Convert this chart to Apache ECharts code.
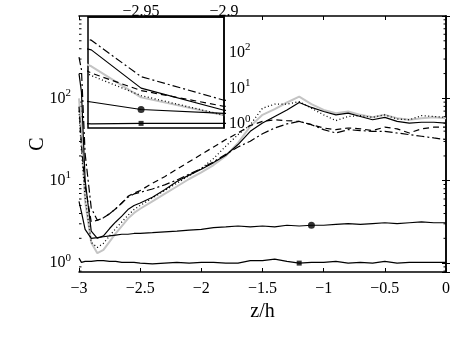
<!DOCTYPE html>
<html>
<head>
<meta charset="utf-8">
<script src="https://cdn.jsdelivr.net/npm/echarts@6/dist/echarts.min.js"></script>
<style>
html, body { margin: 0; padding: 0; background: #fff; }
#chart { width: 464px; height: 337px; }
</style>
</head>
<body>
<div id="chart"></div>
<script>
// z/h sample positions (shared by every curve)
var zh = [-3, -2.98, -2.95, -2.9, -2.85, -2.8, -2.75, -2.7, -2.65, -2.6, -2.55, -2.5,
  -2.4, -2.3, -2.2, -2.1, -2, -1.9, -1.8, -1.7, -1.6, -1.5, -1.4, -1.3, -1.2, -1.1,
  -1, -0.9, -0.8, -0.7, -0.6, -0.5, -0.4, -0.3, -0.2, -0.1, 0];

// C values
var solidC = [200, 120, 10.2, 2.45, 2.0, 2.14, 2.63, 3.16, 3.72, 4.47, 5.01, 5.37,
  6.31, 7.76, 9.77, 11.7, 13.8, 16.6, 20.4, 27.5, 39.8, 50.1, 60.3, 72.4, 89.1, 77.6,
  69.2, 63.1, 66.1, 60.3, 55.0, 58.9, 52.5, 50.1, 51.3, 51.3, 50.1];
var grayC = [100, 41.7, 5.62, 1.78, 1.32, 1.45, 1.82, 2.29, 2.82, 3.47, 4.07, 4.57,
  5.62, 6.92, 8.51, 10.5, 12.6, 15.5, 20.0, 28.8, 45.7, 63.1, 74.1, 89.1, 105, 85.1,
  72.4, 66.1, 69.2, 63.1, 58.9, 63.1, 57.5, 55.0, 57.5, 58.9, 57.5];
var dottedC = [70.8, 22.9, 6.31, 1.78, 1.55, 1.74, 2.14, 2.63, 3.16, 3.80, 4.47, 5.01,
  6.17, 7.59, 9.33, 11.5, 14.1, 18.6, 26.3, 36.3, 47.9, 75.9, 85.1, 85.1, 91.2, 75.9,
  63.1, 53.7, 60.3, 61.7, 58.9, 63.1, 56.2, 55.0, 61.7, 60.3, 58.9];
var dashedC = [79.4, 26.9, 8.71, 3.16, 3.31, 3.55, 3.98, 4.57, 5.37, 6.46, 7.08, 7.59,
  9.33, 11.2, 13.8, 17.0, 20.9, 25.7, 31.6, 38.0, 46.8, 52.5, 55.0, 53.7, 52.5, 47.9,
  43.7, 41.7, 43.7, 42.7, 40.7, 44.7, 42.7, 38.0, 42.7, 44.7, 44.7];
var dashDotC = [316, 224, 21.4, 4.68, 3.31, 3.55, 3.98, 4.57, 5.37, 6.31, 6.92, 7.24,
  7.94, 8.91, 10.2, 12.0, 14.1, 17.0, 20.9, 25.7, 30.2, 37.2, 43.7, 49.0, 52.5, 47.9,
  41.7, 38.0, 41.7, 40.7, 39.8, 39.8, 38.0, 36.3, 34.7, 33.1, 31.6];
var circleC = [5.62, 4.17, 2.57, 2.0, 2.04, 2.09, 2.14, 2.19, 2.24, 2.24, 2.29, 2.29,
  2.34, 2.40, 2.45, 2.51, 2.57, 2.69, 2.75, 2.82, 2.75, 2.82, 2.75, 2.88, 2.82, 2.88,
  2.88, 2.95, 3.02, 2.95, 3.02, 3.09, 3.02, 3.09, 3.16, 3.09, 3.09];
var squareC = [1.15, 1.02, 1.05, 1.05, 1.07, 1.07, 1.05, 1.05, 1.02, 1.02, 1.02, 1.00,
  0.98, 1.00, 1.02, 1.00, 1.02, 1.02, 1.00, 1.00, 1.07, 1.07, 1.12, 1.05, 1.00, 1.02,
  1.02, 1.05, 1.00, 1.02, 1.00, 1.05, 1.00, 1.02, 1.02, 1.02, 1.02];

// where the markers sit (index into zh)
var circleMainIdx = 25, squareMainIdx = 24, markInsetIdx = 2;

// tick labels
var xTickLabels = [-3, -2.5, -2, -1.5, -1, -0.5, 0];
var insetXTickLabels = [-2.95, -2.9];
var yTickExps = [0, 1, 2];
// minor ticks of the log axis
var yMinorTicks = [0.8, 0.9, 2, 3, 4, 5, 6, 7, 8, 9, 20, 30, 40, 50, 60, 70, 80, 90,
  200, 300, 400, 500, 600, 700, 800, 900];

var serif = "'Liberation Serif', 'DejaVu Serif', serif";

function pairs(c) {
  return zh.map(function (z, i) { return [z, c[i]]; });
}
function minusLabel(list) {
  return function (v) {
    for (var i = 0; i < list.length; i++) {
      if (Math.abs(list[i] - v) < 1e-6) return String(list[i]).replace('-', '\u2212');
    }
    return '';
  };
}
function powLabel(v) {
  var lg = Math.log10(v), e = Math.round(lg);
  if (Math.abs(lg - e) > 1e-6 || yTickExps.indexOf(e) < 0) return '';
  return '{b|10}{s|' + e + '}';
}
var powRich = {
  b: { fontFamily: serif, fontSize: 16, color: '#000' },
  s: { fontFamily: serif, fontSize: 11, color: '#000', padding: [0, 0, 11, 0] }
};

var styles = [
  { c: grayC, color: '#c4c4c4', width: 2, type: 'solid' },
  { c: dottedC, color: '#000', width: 1.3, type: [1, 2.5] },
  { c: dashedC, color: '#000', width: 1.2, type: [6, 4] },
  { c: dashDotC, color: '#000', width: 1.2, type: [8, 3, 2, 3] },
  { c: solidC, color: '#000', width: 1.2, type: 'solid' },
  { c: circleC, color: '#000', width: 1.2, type: 'solid' },
  { c: squareC, color: '#000', width: 1.2, type: 'solid' }
];

var series = [];
[[0, 0, 2], [2, 2, 5]].forEach(function (ax) {
  styles.forEach(function (s) {
    series.push({
      type: 'line', xAxisIndex: ax[0], yAxisIndex: ax[1], z: ax[2],
      data: pairs(s.c), showSymbol: false, clip: true, silent: true,
      lineStyle: { color: s.color, width: s.width, type: s.type }
    });
  });
});
series.push(
  { type: 'scatter', xAxisIndex: 0, yAxisIndex: 0, z: 3, symbol: 'circle', symbolSize: 7,
    itemStyle: { color: '#000' }, data: [[zh[circleMainIdx], circleC[circleMainIdx]]] },
  { type: 'scatter', xAxisIndex: 0, yAxisIndex: 0, z: 3, symbol: 'rect', symbolSize: 5,
    itemStyle: { color: '#000' }, data: [[zh[squareMainIdx], squareC[squareMainIdx]]] },
  { type: 'scatter', xAxisIndex: 2, yAxisIndex: 2, z: 6, symbol: 'circle', symbolSize: 7,
    itemStyle: { color: '#000' }, data: [[zh[markInsetIdx], circleC[markInsetIdx]]] },
  { type: 'scatter', xAxisIndex: 2, yAxisIndex: 2, z: 6, symbol: 'rect', symbolSize: 5,
    itemStyle: { color: '#000' }, data: [[zh[markInsetIdx], squareC[markInsetIdx]]] },
  // minor ticks on the left and right edges of the main box
  { type: 'custom', xAxisIndex: 0, yAxisIndex: 0, z: 1, silent: true, clip: false,
    data: yMinorTicks.map(function (v) { return [-3, v]; }),
    renderItem: function (params, api) {
      var v = api.value(1);
      var l = api.coord([-3, v]), r = api.coord([0, v]);
      var st = { stroke: '#000', lineWidth: 1 };
      return { type: 'group', children: [
        { type: 'line', shape: { x1: l[0], y1: l[1], x2: l[0] + 2.5, y2: l[1] }, style: st },
        { type: 'line', shape: { x1: r[0] - 2.5, y1: r[1], x2: r[0], y2: r[1] }, style: st }
      ] };
    } }
);

var axisLine = { show: true, lineStyle: { color: '#000', width: 1.5 } };
var tickIn = { show: true, inside: true, length: 4, lineStyle: { color: '#000', width: 1 } };

var chart = echarts.init(document.getElementById('chart'), null, { renderer: 'canvas' });
chart.setOption({
  animation: false,
  backgroundColor: '#fff',
  grid: [
    { left: 79, top: 16, width: 367, height: 256 },
    { left: 88, top: 17, width: 136, height: 111, show: true, z: 3,
      backgroundColor: '#fff', borderColor: '#000', borderWidth: 1.5 }
  ],
  xAxis: [
    { gridIndex: 0, type: 'value', min: -3, max: 0, interval: 0.5,
      axisLine: axisLine, axisTick: tickIn, splitLine: { show: false },
      axisLabel: { formatter: minusLabel(xTickLabels), fontFamily: serif, fontSize: 16, color: '#000', margin: 9 },
      name: 'z/h', nameLocation: 'middle', nameGap: 30, nameMoveOverlap: false,
      nameTextStyle: { fontFamily: serif, fontSize: 20, color: '#000' } },
    { gridIndex: 0, type: 'value', position: 'top', min: -3, max: 0, interval: 0.5,
      axisLine: axisLine, axisTick: tickIn, splitLine: { show: false }, axisLabel: { show: false } },
    { gridIndex: 1, type: 'value', position: 'top', min: -2.982, max: -2.9, splitNumber: 2, z: 6,
      axisLine: axisLine, axisTick: { show: false }, splitLine: { show: false },
      axisLabel: { formatter: minusLabel(insetXTickLabels), fontFamily: serif, fontSize: 16, color: '#000', margin: -3,
        showMinLabel: false } }
  ],
  yAxis: [
    { gridIndex: 0, type: 'log', logBase: 10, min: 0.78, max: 1000,
      axisLine: axisLine, axisTick: tickIn, splitLine: { show: false },
      axisLabel: { formatter: powLabel, rich: powRich, margin: 8 },
      name: 'C', nameLocation: 'middle', nameGap: 31, nameRotate: 90, nameMoveOverlap: false,
      nameTextStyle: { fontFamily: serif, fontSize: 20, color: '#000' } },
    { gridIndex: 0, type: 'log', logBase: 10, min: 0.78, max: 1000, position: 'right',
      axisLine: axisLine, axisTick: tickIn, splitLine: { show: false }, axisLabel: { show: false } },
    { gridIndex: 1, type: 'log', logBase: 10, min: 0.78, max: 1000, position: 'right', z: 6,
      axisLine: axisLine, axisTick: { show: false }, splitLine: { show: false },
      axisLabel: { formatter: powLabel, rich: powRich, margin: 5 } }
  ],
  series: series
});
</script>
</body>
</html>
